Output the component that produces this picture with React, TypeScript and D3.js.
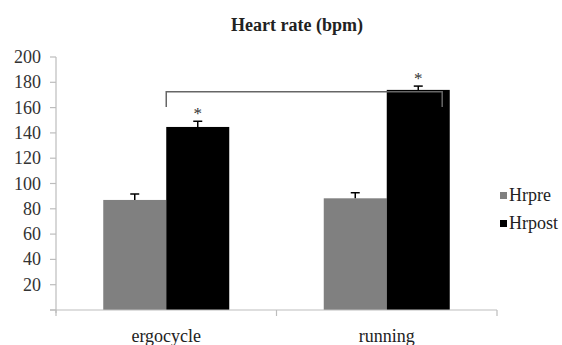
import React from "react";
import * as d3 from "d3";

const categories = ["ergocycle", "running"];
const seriesNames = ["Hrpre", "Hrpost"];
const hrpreValues = [87, 88.3];
const hrpreErrors = [4.7, 4.4];
const hrpostValues = [144.7, 174];
const hrpostErrors = [4.5, 3];
const significant = [true, true];
const yTicks = [20, 40, 60, 80, 100, 120, 140, 160, 180, 200];
const title = "Heart rate (bpm)";
const colors = ["#808080", "#000000"];

const W = 562;
const H = 345;
const left = 56;
const right = 497;
const top = 57;
const bottom = 310;
const FF = "Liberation Serif";

export default function App() {
  const x0 = d3.scaleBand<string>().domain(categories).range([left, right]).paddingInner(0).paddingOuter(0);
  const x1 = d3.scaleBand<string>().domain(seriesNames).range([0, x0.bandwidth()]).paddingInner(0).paddingOuter(0.75);
  const y = d3.scaleLinear().domain([0, 200]).range([bottom, top]);
  const color = d3.scaleOrdinal<string, string>().domain(seriesNames).range(colors);
  const seriesVals = [hrpreValues, hrpostValues];
  const seriesErr = [hrpreErrors, hrpostErrors];
  const bw = x1.bandwidth();

  const bracketY = y(172.5);
  const bracketDrop = y(160.5);
  const bLeft = (x0(categories[0]) as number) + x0.bandwidth() / 2;
  const bRight = (x0(categories[1]) as number) + (x1("Hrpost") as number) + bw * 0.88;

  const axisColor = "#bdbdbd";
  const ts = { fontFamily: FF };

  return (
    <svg width={W} height={H} style={{ position: "absolute", left: 0, top: 0, background: "#fff" }}>
      <rect width={W} height={H} fill="#fff" />
      <text x={297} y={31} textAnchor="middle" fontSize={18} fontWeight="bold" fill="#222" style={ts}>{title}</text>

      <line x1={left} x2={left} y1={top} y2={bottom + 3} stroke={axisColor} strokeWidth={1.2} />
      {[0, ...yTicks].map((t) => (
        <line key={"t" + t} x1={left - 6} x2={left} y1={y(t)} y2={y(t)} stroke={axisColor} strokeWidth={1.2} />
      ))}
      {yTicks.map((t) => (
        <text key={"l" + t} x={41} y={y(t) + 6} textAnchor="end" fontSize={18} fill="#333" style={ts}>{t}</text>
      ))}

      {categories.map((c, ci) =>
        seriesNames.map((s, si) => {
          const xb = (x0(c) as number) + (x1(s) as number);
          const v = seriesVals[si][ci];
          const e = seriesErr[si][ci];
          const cx = xb + bw / 2;
          return (
            <g key={c + s}>
              <rect x={xb} y={y(v)} width={bw} height={y(0) - y(v)} fill={color(s)} />
              <line x1={cx} x2={cx} y1={y(v)} y2={y(v + e)} stroke="#000" strokeWidth={1.5} />
              <line x1={cx - 4.5} x2={cx + 4.5} y1={y(v + e)} y2={y(v + e)} stroke="#000" strokeWidth={1.5} />
              {si === 1 && significant[ci] ? (
                <text x={cx} y={y(v + e) - 2} textAnchor="middle" fontSize={17} fill="#333" style={ts}>*</text>
              ) : null}
            </g>
          );
        })
      )}

      <line x1={left - 6} x2={right} y1={bottom} y2={bottom} stroke={axisColor} strokeWidth={1.2} />
      {[...categories.map((c) => x0(c) as number), right].map((xv, i) => (
        <line key={"xt" + i} x1={xv} x2={xv} y1={bottom} y2={bottom + 6} stroke={axisColor} strokeWidth={1.2} />
      ))}
      {categories.map((c) => (
        <text key={"c" + c} x={(x0(c) as number) + x0.bandwidth() / 2} y={342} textAnchor="middle" fontSize={18} fill="#222" style={ts}>{c}</text>
      ))}

      <path d={`M${bLeft},${bracketDrop}V${bracketY}H${bRight}V${bracketDrop}`} fill="none" stroke="#666" strokeWidth={1.5} />

      {seriesNames.map((s, i) => (
        <g key={"lg" + s} transform={`translate(500, ${192 + i * 28})`}>
          <rect x={0} y={0} width={7} height={7} fill={color(s)} />
          <text x={9} y={8.5} fontSize={18} fill="#222" style={ts}>{s}</text>
        </g>
      ))}
    </svg>
  );
}
